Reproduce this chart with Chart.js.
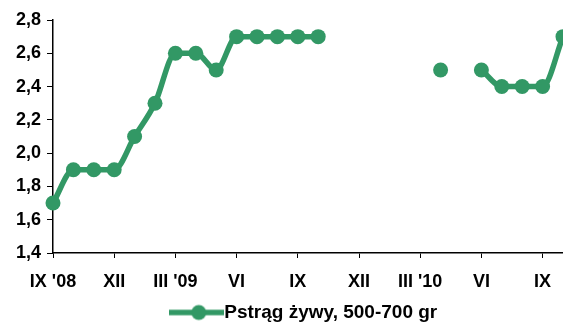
<!DOCTYPE html>
<html><head><meta charset="utf-8">
<script src="https://cdn.jsdelivr.net/npm/chart.js@4"></script>
<style>html,body{margin:0;padding:0;background:#fff;overflow:hidden}canvas{display:block}</style>
</head><body><canvas id="c" width="563" height="325"></canvas>
<script>
const categories = ["IX 2008","X 2008","XI 2008","XII 2008","I 2009","II 2009","III 2009","IV 2009","V 2009","VI 2009","VII 2009","VIII 2009","IX 2009","X 2009","XI 2009","XII 2009","I 2010","II 2010","III 2010","IV 2010","V 2010","VI 2010","VII 2010","VIII 2010","IX 2010","X 2010"];
const trout = [1.7,1.9,1.9,1.9,2.1,2.3,2.6,2.6,2.5,2.7,2.7,2.7,2.7,2.7,null,null,null,null,null,2.5,null,2.5,2.4,2.4,2.4,2.7];
const tickLabels = ["IX '08","XII","III '09","VI","IX","XII","III '10","VI","IX"];
const seriesName = "Pstrąg żywy, 500-700 gr";
const green = "#329865";
const font = "'Liberation Sans', Arial, sans-serif";
const legendSize = 19;

const boxW = 36;
const sym = document.createElement('canvas');
sym.width = boxW + legendSize; sym.height = 18;
const sc = sym.getContext('2d');
sc.strokeStyle = green; sc.lineWidth = 5.5;
sc.beginPath(); sc.moveTo(0,9); sc.lineTo(sym.width,9); sc.stroke();
sc.fillStyle = green; sc.beginPath(); sc.arc(sym.width/2 + 2,9,7.5,0,Math.PI*2); sc.fill();

new Chart(document.getElementById('c'), {
  type: 'line',
  data: { labels: categories, datasets: [{
    label: seriesName, data: trout, borderColor: green, backgroundColor: green,
    borderWidth: 5.5, pointRadius: 7.5, pointHoverRadius: 7.5, pointBorderWidth: 0,
    cubicInterpolationMode: 'monotone', spanGaps: false, clip: false
  }]},
  options: {
    responsive: false, maintainAspectRatio: false, animation: false,
    layout: { autoPadding: false, padding: { top: 20, right: 0, left: 0, bottom: -7 } },
    plugins: {
      tooltip: { enabled: false },
      legend: { position: 'bottom', fullSize: false, labels: {
        usePointStyle: true, pointStyle: sym, pointStyleWidth: boxW, padding: 4,
        color: '#000', font: { family: font, size: legendSize, weight: 'bold' }
      }}
    },
    scales: {
      x: {
        offset: false,
        grid: { drawOnChartArea: false, tickLength: 5, color: '#000' },
        border: { color: '#000', width: 1.5 },
        ticks: { autoSkip: false, maxRotation: 0, padding: 13, color: '#000',
          font: { family: font, size: 18, weight: 'bold' },
          callback: (v, i) => i % 3 === 0 ? tickLabels[i/3] : null },
        afterFit: s => { s.height = 46; s.paddingRight = 0; s.paddingLeft = 0; }
      },
      y: {
        min: 1.4, max: 2.8,
        grid: { drawOnChartArea: false, tickLength: 6, color: '#000' },
        border: { color: '#000', width: 1.5 },
        ticks: { stepSize: 0.2, padding: 6, color: '#000',
          font: { family: font, size: 18, weight: 'bold' },
          callback: v => v.toFixed(1).replace('.', ',') },
        afterFit: s => { s.width = 53; }
      }
    }
  }
});
</script></body></html>
